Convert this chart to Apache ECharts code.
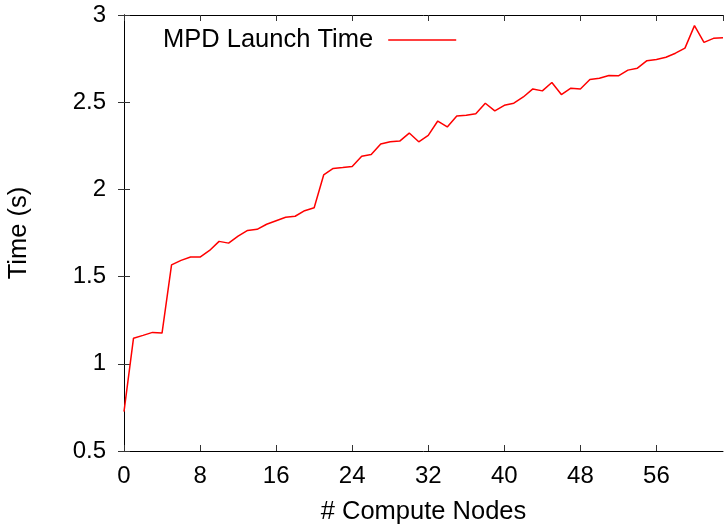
<html>
<head>
    <meta charset="utf-8">
    <script src="https://cdn.jsdelivr.net/npm/echarts@6/dist/echarts.min.js"></script>
</head>
<body style="margin:0;">
<div id="main" style="width: 726px;height:527px;"></div>
</body>
<script type="text/javascript">
    // compute nodes (x) and launch time in seconds (y)
    var nodes = [0, 1, 2, 3, 4, 5, 6, 7, 8, 9, 10, 11, 12, 13, 14, 15,
        16, 17, 18, 19, 20, 21, 22, 23, 24, 25, 26, 27, 28, 29, 30, 31,
        32, 33, 34, 35, 36, 37, 38, 39, 40, 41, 42, 43, 44, 45, 46, 47,
        48, 49, 50, 51, 52, 53, 54, 55, 56, 57, 58, 59, 60, 61, 62, 63];
    var launchTime = [0.726, 1.147, 1.163, 1.18, 1.176, 1.567, 1.593, 1.612, 1.612, 1.65, 1.702, 1.692, 1.732, 1.765, 1.771, 1.80,
        1.82, 1.84, 1.846, 1.878, 1.895, 2.083, 2.12, 2.125, 2.131, 2.19, 2.20, 2.26, 2.273, 2.277, 2.323, 2.273,
        2.31, 2.392, 2.358, 2.421, 2.425, 2.434, 2.494, 2.45, 2.482, 2.494, 2.53, 2.576, 2.565, 2.613, 2.544, 2.58,
        2.576, 2.63, 2.637, 2.653, 2.651, 2.684, 2.695, 2.738, 2.745, 2.758, 2.781, 2.81, 2.939, 2.843, 2.866, 2.87];
    var seriesName = 'MPD Launch Time';

    var font = 'Liberation Sans';
    var pts = [];
    for (var i = 0; i < nodes.length; i++) {
        pts.push([nodes[i], launchTime[i]]);
    }

    var myChart = echarts.init(document.getElementById('main'));

    var option = {
        animation: false,
        textStyle: {fontFamily: font},
        grid: {left: 124, right: 3, top: 15, bottom: 76, outerBoundsMode: 'none'},
        legend: {
            left: 158,
            top: 22,
            align: 'right',
            icon: 'rect',
            itemWidth: 68,
            itemHeight: 1.5,
            textStyle: {fontFamily: font, fontSize: 25.5, color: '#000', padding: [0, 10, 0, 0]},
            data: [seriesName]
        },
        xAxis: [{
            type: 'value',
            min: 0,
            max: 63,
            interval: 8,
            name: '# Compute Nodes',
            nameLocation: 'middle',
            nameGap: 48,
            nameTextStyle: {fontFamily: font, fontSize: 25.5, color: '#000'},
            splitLine: {show: false},
            axisLine: {lineStyle: {color: '#000', width: 1}},
            axisTick: {inside: true, length: 6, lineStyle: {color: '#333'}},
            axisLabel: {fontFamily: font, fontSize: 24, color: '#000', margin: 13, showMaxLabel: false}
        }, {
            type: 'value',
            position: 'top',
            min: 0,
            max: 63,
            interval: 8,
            splitLine: {show: false},
            axisLine: {lineStyle: {color: '#000', width: 1}},
            axisTick: {inside: true, length: 6, lineStyle: {color: '#333'}},
            axisLabel: {show: false}
        }],
        yAxis: [{
            type: 'value',
            min: 0.5,
            max: 3,
            interval: 0.5,
            name: 'Time (s)',
            nameLocation: 'middle',
            nameGap: 92,
            nameTextStyle: {fontFamily: font, fontSize: 25.5, color: '#000'},
            splitLine: {show: false},
            axisLine: {show: true, lineStyle: {color: '#000', width: 1}},
            axisTick: {show: true, inside: true, length: 6, lineStyle: {color: '#333'}},
            axisLabel: {fontFamily: font, fontSize: 24, color: '#000', margin: 18}
        }, {
            type: 'value',
            position: 'right',
            min: 0.5,
            max: 3,
            interval: 0.5,
            splitLine: {show: false},
            axisLine: {show: true, lineStyle: {color: '#000', width: 1}},
            axisTick: {show: true, inside: true, length: 6, lineStyle: {color: '#333'}},
            axisLabel: {show: false}
        }],
        series: [{
            name: seriesName,
            type: 'line',
            data: pts,
            showSymbol: false,
            symbol: 'none',
            itemStyle: {color: '#ff0000'},
            lineStyle: {color: '#ff0000', width: 1.5}
        }]
    };

    myChart.setOption(option);
</script>
</html>
